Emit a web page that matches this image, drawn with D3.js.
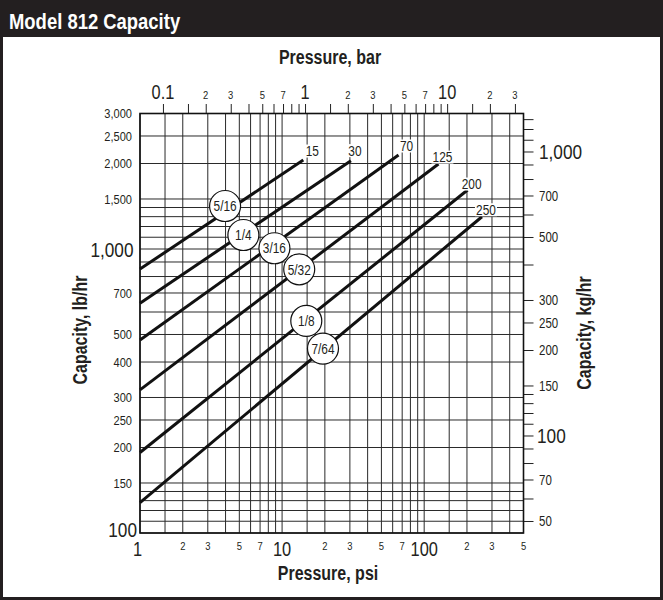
<!DOCTYPE html>
<html>
<head>
<meta charset="utf-8">
<script src="https://cdn.jsdelivr.net/npm/d3@7"></script>
<style>
  html, body { margin: 0; padding: 0; background: #fff; }
  svg { display: block; }
  text { font-family: "Liberation Sans", Arial, sans-serif; fill: #231f20; }
  .bold { font-weight: bold; }
</style>
</head>
<body>
<svg id="chart" width="663" height="600"></svg>
<script>
// grid and tick values
var psiGrid = [1, 1.5, 2, 3, 4, 5, 6, 7, 8, 9, 10, 15, 20, 30, 40, 50, 60, 70, 80, 90, 100, 150, 200, 300, 400, 500]
var lbGrid = [100, 110, 120, 130, 140, 150, 200, 250, 300, 400, 500, 600, 700, 800, 900, 1000, 1100, 1200, 1300, 1400, 1500, 2000, 2500, 3000]
var psiLabels = [1, 2, 3, 5, 7, 10, 20, 30, 50, 70, 100, 200, 300, 500]
var barTicks = [0.1, 0.15, 0.2, 0.3, 0.4, 0.5, 0.6, 0.7, 0.8, 0.9, 1, 1.5, 2, 3, 4, 5, 6, 7, 8, 9, 10, 15, 20, 30]
var barLabels = [0.1, 0.2, 0.3, 0.5, 0.7, 1, 2, 3, 5, 7, 10, 20, 30]
var lbLabels = [100, 150, 200, 250, 300, 400, 500, 700, 1000, 1500, 2000, 2500, 3000]
var kgTicks = [50, 60, 70, 80, 90, 100, 110, 120, 130, 140, 150, 200, 250, 300, 400, 500, 600, 700, 800, 900, 1000, 1100, 1200, 1300]
var kgLabels = [50, 70, 100, 150, 200, 250, 300, 500, 700, 1000]
var bigLabels = [0.1, 1, 10, 100, 1000]

// capacity lines, one per orifice size
var orifice = ['5/16', '1/4', '3/16', '5/32', '1/8', '7/64']
var maxPressure = ['15', '30', '70', '125', '200', '250']
var startPsi = [1, 1, 1, 1, 1, 1]
var startCap = [850, 644, 478, 319, 192, 128]
var endPsi = [14.1, 30.5, 66, 126, 202, 255]
var endCap = [2057, 2047, 2143, 1991, 1613, 1299]
var circlePsi = [3.97, 5.34, 8.83, 13.2, 14.8, 19.4]
var circleCap = [1417, 1120, 1006, 848, 558, 446]

var PSI_PER_BAR = 14.5038
var LB_PER_KG = 2.20462
var NARROW = 0.82 // squeeze Liberation Sans to a condensed face

var svg = d3.select('#chart')
var W = 663, H = 600

// places text at (x, y) squeezed horizontally
function at (fx, fy, rot) {
  return function (d, i) {
    var px = typeof fx === 'function' ? fx(d, i) : fx
    var py = typeof fy === 'function' ? fy(d, i) : fy
    return 'translate(' + px + ',' + py + ')' + (rot ? ' rotate(' + rot + ')' : '') + ' scale(' + NARROW + ',1)'
  }
}

// header bar and frame
svg.append('rect').attr('x', 0).attr('y', 0).attr('width', W).attr('height', 37).attr('fill', '#231f20')
svg.append('rect').attr('x', 1.5).attr('y', 1.5).attr('width', W - 3).attr('height', H - 3)
  .attr('fill', 'none').attr('stroke', '#231f20').attr('stroke-width', 3)
svg.append('text').attr('class', 'bold').attr('transform', at(9, 29))
  .style('font-size', '22.5px').style('fill', '#fff').text('Model 812 Capacity')

var pl = 140, pr = 523.5, pt = 113.5, pb = 533

var x = d3.scaleLog().domain([1, 500]).range([pl, pr])
var xBar = d3.scaleLog().domain([1 / PSI_PER_BAR, 500 / PSI_PER_BAR]).range([pl, pr])
var y = d3.scaleLog().domain([100, 3000]).range([pb, pt])
var yKg = d3.scaleLog().domain([100 / LB_PER_KG, 3000 / LB_PER_KG]).range([pb, pt])

function isBig (v) { return bigLabels.indexOf(v) >= 0 }
function firstDigit (v) { return String(v).replace(/[0.]/g, '')[0] }

// grid
var grid = svg.append('g').attr('stroke', '#2a2a2a').attr('stroke-width', 1)
grid.selectAll('.vg').data(psiGrid).enter().append('line')
  .attr('x1', function (d) { return x(d) }).attr('x2', function (d) { return x(d) })
  .attr('y1', pt).attr('y2', pb)
grid.selectAll('.hg').data(lbGrid).enter().append('line')
  .attr('x1', pl).attr('x2', pr)
  .attr('y1', function (d) { return y(d) }).attr('y2', function (d) { return y(d) })

// top bar axis
svg.append('g').attr('transform', 'translate(0,' + pt + ')')
  .call(d3.axisTop(xBar).tickValues(barTicks).tickSize(9.5).tickFormat(''))
  .call(function (g) { g.select('.domain').remove(); g.selectAll('line').attr('stroke', '#222') })

svg.append('g').selectAll('text').data(barLabels).enter().append('text')
  .attr('transform', at(function (d) { return xBar(d) }, 99))
  .attr('text-anchor', 'middle')
  .style('font-size', function (d) { return isBig(d) ? '20px' : '11.5px' })
  .text(function (d) { return isBig(d) ? String(d) : firstDigit(d) })

// right kg axis
svg.append('g').attr('transform', 'translate(' + pr + ',0)')
  .call(d3.axisRight(yKg).tickValues(kgTicks).tickSize(10).tickFormat(''))
  .call(function (g) { g.select('.domain').remove(); g.selectAll('line').attr('stroke', '#222') })

svg.append('g').selectAll('text').data(kgLabels).enter().append('text')
  .attr('transform', at(function (d) { return d === 100 ? 537 : 539 }, function (d) { return yKg(d) }))
  .attr('dy', '0.36em')
  .style('font-size', function (d) { return isBig(d) ? '21px' : '14px' })
  .text(function (d) { return d3.format(',')(d) })

// left lb axis labels
svg.append('g').selectAll('text').data(lbLabels).enter().append('text')
  .attr('transform', at(function (d) { return d === 100 ? 137 : (d === 1000 ? 133.5 : 132) }, function (d) { return y(d) }))
  .attr('dy', function (d) { return d === 100 ? '0.2em' : '0.36em' })
  .attr('text-anchor', 'end')
  .style('font-size', function (d) { return isBig(d) ? '21px' : '13.5px' })
  .text(function (d) { return d3.format(',')(d) })

// bottom psi labels
svg.append('g').selectAll('text').data(psiLabels).enter().append('text')
  .attr('transform', at(function (d) { return d === 1 ? 137.5 : x(d) }, function (d) { return isBig(d) ? 555.5 : 550 }))
  .attr('text-anchor', 'middle')
  .style('font-size', function (d) { return isBig(d) ? '20px' : '11.5px' })
  .text(function (d) { return isBig(d) ? String(d) : firstDigit(d) })

// plot frame
svg.append('rect').attr('x', pl).attr('y', pt).attr('width', pr - pl).attr('height', pb - pt)
  .attr('fill', 'none').attr('stroke', '#111').attr('stroke-width', 1.6)

// axis titles
svg.append('text').attr('class', 'bold').attr('transform', at(330, 64)).attr('text-anchor', 'middle')
  .style('font-size', '19.5px').text('Pressure, bar')
svg.append('text').attr('class', 'bold').attr('transform', at(328, 580)).attr('text-anchor', 'middle')
  .style('font-size', '19.5px').text('Pressure, psi')
svg.append('text').attr('class', 'bold').attr('transform', at(86.5, 330, -90))
  .attr('text-anchor', 'middle').style('font-size', '19.5px').text('Capacity, lb/hr')
svg.append('text').attr('class', 'bold').attr('transform', at(591, 333, -90))
  .attr('text-anchor', 'middle').style('font-size', '19.5px').text('Capacity, kg/hr')

// capacity lines
var lineGen = d3.line()
  .x(function (d) { return x(d[0]) })
  .y(function (d) { return y(d[1]) })

var series = orifice.map(function (o, i) {
  return { name: o, max: maxPressure[i], pts: [[startPsi[i], startCap[i]], [endPsi[i], endCap[i]]] }
})

svg.append('g').selectAll('path').data(series).enter().append('path')
  .attr('d', function (d) { return lineGen(d.pts) })
  .attr('fill', 'none').attr('stroke', '#111').attr('stroke-width', 3)

// max pressure labels at line ends
var labelDx = [9, 4, 8, 4, 4, 4]
var labelDy = [-4, -5, -4, -2, -1, -2]
var endLabels = svg.append('g').selectAll('g').data(series).enter().append('g')
  .attr('transform', function (d, i) {
    return 'translate(' + (x(endPsi[i]) + labelDx[i]) + ',' + (y(endCap[i]) + labelDy[i]) + ')'
  })
endLabels.append('rect').attr('x', function (d) { return d.max.length > 2 ? -11 : -8 })
  .attr('y', -11.5).attr('width', function (d) { return d.max.length > 2 ? 22 : 16 }).attr('height', 13)
  .attr('fill', '#fff')
endLabels.append('text').attr('text-anchor', 'middle').style('font-size', '14.5px')
  .attr('transform', 'scale(' + NARROW + ',1)')
  .text(function (d) { return d.max })

// orifice size circles
var circles = svg.append('g').selectAll('g').data(orifice).enter().append('g')
  .attr('transform', function (d, i) { return 'translate(' + x(circlePsi[i]) + ',' + y(circleCap[i]) + ')' })
circles.append('circle').attr('r', 15.5).attr('fill', '#fff').attr('stroke', '#111').attr('stroke-width', 1.2)
circles.append('text').attr('text-anchor', 'middle').attr('dy', '0.36em').style('font-size', '14.5px')
  .attr('transform', 'scale(' + NARROW + ',1)')
  .text(function (d) { return d })
</script>
</body>
</html>
